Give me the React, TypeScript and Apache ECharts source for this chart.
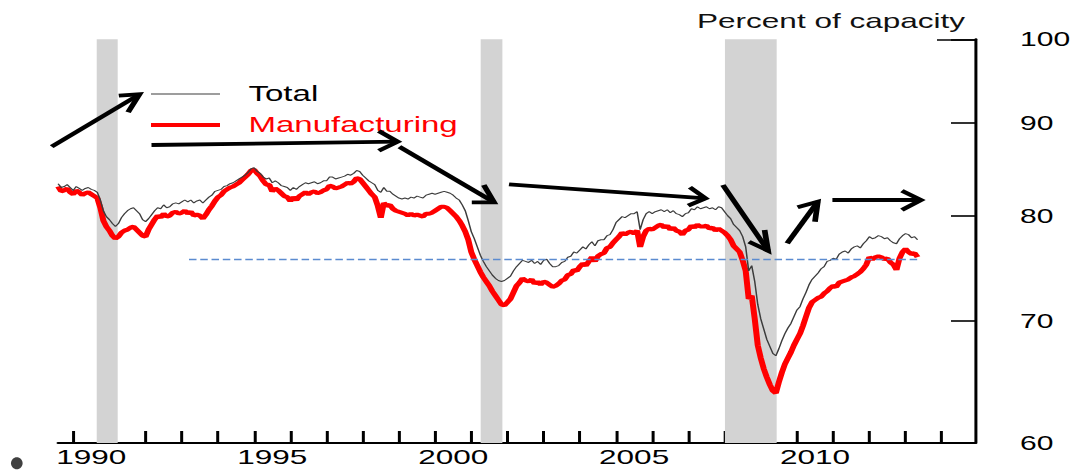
import React, { useEffect, useRef } from "react";
import * as echarts from "echarts";

// ---------------- data ----------------
// Monthly capacity utilization, Aug 1989 .. May 2013 (percent of capacity)
const START_YEAR = 1989;
const START_MONTH = 7; // zero-based: August

const TOTAL = [
  // 1989 Aug-Dec
  83.3, 82.9, 83.0, 83.2, 82.9,
  // 1990
  82.6, 83.0, 82.8, 82.6, 82.8, 82.9, 82.7, 82.6, 82.4, 81.6, 80.5, 79.9,
  // 1991
  79.6, 79.2, 78.9, 79.2, 79.8, 80.2, 80.5, 80.7, 80.8, 80.5, 80.2, 79.6,
  // 1992
  79.4, 79.7, 80.1, 80.5, 80.8, 80.7, 81.1, 80.8, 80.9, 81.2, 81.3, 81.2,
  // 1993
  81.4, 81.6, 81.4, 81.6, 81.3, 81.5, 81.6, 81.3, 81.6, 81.9, 82.1, 82.5,
  // 1994
  82.6, 82.7, 83.0, 83.1, 83.3, 83.4, 83.6, 83.8, 84.0, 84.2, 84.5, 84.9,
  // 1995
  85.0, 84.6, 84.4, 84.0, 83.8, 83.9, 83.4, 83.6, 83.4, 83.1, 83.0, 82.9,
  // 1996
  82.6, 82.9, 82.7, 83.0, 83.2, 83.4, 83.3, 83.4, 83.5, 83.3, 83.4, 83.6,
  // 1997
  83.6, 84.0, 84.0, 83.8, 83.9, 84.0, 84.1, 84.3, 84.2, 84.4, 84.7, 84.6,
  // 1998
  84.2, 83.9, 83.6, 83.4, 83.2, 82.6, 82.4, 82.9, 82.5, 82.5, 82.2, 82.0,
  // 1999
  81.8, 81.7, 81.8, 81.7, 81.9, 81.8, 82.0, 81.9, 81.8, 82.1, 82.2, 82.3,
  // 2000
  82.2, 82.3, 82.4, 82.5, 82.4, 82.3, 82.1, 81.8, 81.6, 81.1, 80.5, 79.5,
  // 2001
  78.4, 77.7, 76.9, 76.1, 75.5, 75.0, 74.6, 74.2, 73.9, 73.7, 73.6, 73.7,
  // 2002
  73.9, 74.1, 74.6, 75.0, 75.3, 75.6, 75.5, 75.4, 75.6, 75.3, 75.5, 75.2,
  // 2003
  75.6, 75.7, 75.3, 75.0, 75.0, 75.1, 75.4, 75.5, 75.9, 76.0, 76.4, 76.3,
  // 2004
  76.6, 76.9, 76.7, 77.1, 77.4, 77.0, 77.5, 77.6, 77.6, 78.0, 78.1, 78.6,
  // 2005
  79.3, 79.6, 79.9, 79.8, 80.0, 80.2, 80.2, 80.4, 78.6, 79.6, 80.2, 80.4,
  // 2006
  80.2, 80.4, 80.5, 80.6, 80.4, 80.6, 80.3, 80.5, 80.2, 80.1, 79.9, 80.2,
  // 2007
  80.3, 80.7, 80.6, 80.9, 80.7, 80.8, 80.9, 80.7, 80.8, 80.6, 80.9, 80.8,
  // 2008
  80.4, 80.0, 79.7, 79.1, 78.8, 78.5, 77.9, 76.9, 74.6, 75.1, 73.6, 71.5,
  // 2009
  70.2, 69.3, 68.4, 67.8, 67.2, 67.0, 67.6, 68.3, 68.9, 69.4, 69.8, 70.4,
  // 2010
  71.0, 71.3, 72.0, 72.6, 73.3, 73.8, 74.1, 74.4, 74.8, 75.0, 75.5, 75.6,
  // 2011
  75.8, 75.7, 76.2, 76.4, 76.5, 76.3, 76.7, 76.9, 77.0, 76.8, 77.2, 77.5,
  // 2012
  77.9, 77.7, 77.8, 78.0, 77.9, 77.7, 77.8, 77.5, 77.3, 77.2, 77.7, 78.0,
  // 2013 Jan-May
  78.2, 78.1, 77.8, 77.9, 77.6,
];

const MANUFACTURING = [
  // 1989 Aug-Dec
  83.0, 82.5, 82.6, 82.8, 82.4,
  // 1990
  82.2, 82.6, 82.4, 82.1, 82.3, 82.4, 82.2, 82.0, 81.8, 80.8, 79.5, 78.9,
  // 1991
  78.5, 78.0, 77.7, 77.9, 78.3, 78.5, 78.6, 78.8, 78.9, 78.6, 78.3, 78.0,
  // 1992
  77.9, 78.6, 79.1, 79.6, 80.0, 79.8, 80.2, 79.9, 80.0, 80.3, 80.4, 80.2,
  // 1993
  80.3, 80.5, 80.2, 80.4, 80.0, 80.1, 80.0, 79.7, 80.1, 80.6, 81.0, 81.5,
  // 1994
  81.9, 82.1, 82.5, 82.7, 82.9, 83.0, 83.2, 83.4, 83.7, 84.0, 84.3, 84.7,
  // 1995
  84.8, 84.4, 84.1, 83.6, 83.2, 83.2, 82.5, 82.8, 82.6, 82.3, 82.0, 81.9,
  // 1996
  81.5, 81.9, 81.6, 82.0, 82.2, 82.4, 82.2, 82.4, 82.5, 82.3, 82.4, 82.6,
  // 1997
  82.7, 83.1, 83.0, 82.8, 82.9, 83.0, 83.2, 83.4, 83.3, 83.5, 83.9, 83.8,
  // 1998
  83.4, 83.0, 82.6, 82.2, 81.9, 81.0, 79.8, 81.3, 81.0, 81.1, 80.7, 80.5,
  // 1999
  80.4, 80.3, 80.2, 80.0, 80.2, 80.0, 80.1, 80.0, 79.9, 80.2, 80.2, 80.3,
  // 2000
  80.5, 80.7, 80.9, 80.9, 80.8, 80.5, 80.2, 79.9, 79.5, 79.0, 78.4, 77.6,
  // 2001
  76.4, 75.7, 75.1, 74.5, 74.0, 73.6, 73.2, 72.7, 72.3, 71.9, 71.5, 71.4,
  // 2002
  71.7, 72.0, 72.6, 73.2, 73.5, 73.9, 73.7, 73.6, 73.8, 73.4, 73.6, 73.3,
  // 2003
  73.6, 73.5, 73.3, 73.1, 73.2, 73.4, 73.7, 73.8, 74.2, 74.3, 74.7, 74.6,
  // 2004
  75.0, 75.3, 75.1, 75.5, 75.9, 75.5, 76.0, 76.2, 76.3, 76.8, 76.9, 77.3,
  // 2005
  77.6, 77.9, 78.3, 78.1, 78.3, 78.4, 78.2, 78.5, 76.9, 77.9, 78.5, 78.7,
  // 2006
  78.6, 78.8, 79.0, 79.1, 78.8, 79.0, 78.6, 78.8, 78.5, 78.4, 78.1, 78.5,
  // 2007
  78.6, 79.0, 78.8, 79.1, 78.9, 78.9, 79.0, 78.7, 78.8, 78.5, 78.7, 78.5,
  // 2008
  78.3, 78.0, 77.6, 77.0, 76.7, 76.4, 75.6, 74.6, 72.0, 72.3, 70.2, 67.9,
  // 2009
  66.8, 65.9, 65.2, 64.6, 64.1, 63.9, 64.8, 65.6, 66.3, 66.8, 67.3, 67.9,
  // 2010
  68.4, 68.9, 69.6, 70.4, 71.2, 71.7, 71.9, 72.1, 72.2, 72.5, 72.7, 73.0,
  // 2011
  73.2, 73.1, 73.5, 73.6, 73.7, 73.8, 74.0, 74.1, 74.3, 74.5, 74.8, 75.2,
  // 2012
  75.9, 75.7, 75.9, 76.0, 75.9, 75.7, 75.8, 75.4, 75.2, 74.7, 75.8, 76.4,
  // 2013 Jan-May
  76.7, 76.4, 76.2, 76.3, 75.9,
];

// Recession shading (decimal years)
const RECESSION_START = [1990.65, 2001.26, 2008.01];
const RECESSION_END = [1991.23, 2001.86, 2009.44];

// Dashed reference level
const REF_LEVEL = 75.7;
const REF_FROM = 1993.2;
const REF_TO = 2013.37;

// Axis ticks and labels
const X_TICK_YEARS = [
  1990, 1991, 1992, 1993, 1994, 1995, 1996, 1997, 1998, 1999, 2000, 2001, 2002,
  2003, 2004, 2005, 2006, 2007, 2008, 2009, 2010, 2011, 2012, 2013, 2014,
];
const X_LABEL_YEARS = [1990, 1995, 2000, 2005, 2010];
const Y_TICKS = [60, 70, 80, 90, 100];

const SERIES_NAMES = ["Total", "Manufacturing"];

// Hand-drawn annotation arrows (page coordinates): shaft start, tip, two head arms
const ARROWS = [
  { from: [51.7, 146.7], tip: [139.5, 94.3], arms: [[118.8, 95.7], [128.1, 112.3]] },
  { from: [151.5, 145], tip: [397.7, 141.7], arms: [[378.8, 131], [378.8, 150.7]] },
  { from: [399.4, 146.7], tip: [494.1, 202.3], arms: [[483.8, 185], [471.8, 202.3]] },
  { from: [509, 184.3], tip: [705.5, 198.3], arms: [[689.9, 187.3], [688.2, 205.7]] },
  { from: [722.9, 185], tip: [768.1, 250.7], arms: [[749, 241.7], [764.6, 230]] },
  { from: [787.2, 243.3], tip: [817.8, 201.7], arms: [[797.6, 207.3], [815, 221.7]] },
  { from: [832.4, 200], tip: [921, 200], arms: [[901.9, 190.7], [901.9, 210]] },
];

// ---------------- layout ----------------
const W = 716;
const H = 470;
const S = 1075 / W; // the slide image is stretched horizontally
const px = (x: number) => x / S;
const FONT = "'Liberation Sans', Arial, sans-serif";

export default function App() {
  const ref = useRef<HTMLDivElement>(null);

  useEffect(() => {
    if (!ref.current) return;
    const chart = echarts.init(ref.current, null, { renderer: "svg", width: W, height: H });

    const start = START_YEAR + START_MONTH / 12;
    const dates = TOTAL.map((_, i) => start + i / 12);
    const totalData = TOTAL.map((v, i) => [dates[i], v]);
    const mfgData = MANUFACTURING.map((v, i) => [dates[i], v]);

    const arrowGraphics: any[] = [];
    ARROWS.forEach((a) => {
      arrowGraphics.push({
        type: "polyline",
        silent: true,
        shape: { points: [[px(a.from[0]), a.from[1]], [px(a.tip[0]), a.tip[1]]] },
        style: { stroke: "#000", lineWidth: 3.8, fill: null, lineCap: "butt" },
        z: 100,
      });
      arrowGraphics.push({
        type: "polyline",
        silent: true,
        shape: {
          points: [
            [px(a.arms[0][0]), a.arms[0][1]],
            [px(a.tip[0]), a.tip[1]],
            [px(a.arms[1][0]), a.arms[1][1]],
          ],
        },
        style: { stroke: "#000", lineWidth: 3.8, fill: null, lineJoin: "miter" },
        z: 100,
      });
    });

    const option: any = {
      animation: false,
      backgroundColor: "#fff",
      grid: {
        left: px(58),
        right: W - px(975),
        top: 39.3,
        bottom: 27,
        containLabel: false,
        outerBoundsMode: "none",
      },
      legend: {
        orient: "vertical",
        left: px(151),
        top: 82,
        padding: 0,
        itemWidth: px(69),
        itemHeight: 24,
        itemGap: 7,
        selectedMode: false,
        textStyle: {
          fontSize: 22,
          fontFamily: FONT,
          color: "#000",
          padding: [0, 0, 0, 14],
          lineHeight: 24,
        },
        data: [
          {
            name: SERIES_NAMES[0],
            icon: "path://M0,0H46V1.2H0Z",
            itemStyle: { color: "#3c3c3c" },
            textStyle: { color: "#000" },
          },
          {
            name: SERIES_NAMES[1],
            icon: "path://M0,0H46V4.2H0Z",
            itemStyle: { color: "#ff0000" },
            textStyle: { color: "#ff0000" },
          },
        ],
      },
      xAxis: {
        type: "value",
        min: 1989.58,
        max: 2014.92,
        position: "bottom",
        axisLine: { show: true, onZero: false, lineStyle: { color: "#000", width: 2 } },
        axisTick: {
          show: true,
          inside: true,
          length: 12,
          lineStyle: { color: "#000", width: 2 },
          customValues: X_TICK_YEARS,
        },
        axisLabel: {
          show: true,
          customValues: X_LABEL_YEARS.map((y) => y + 0.5),
          formatter: (v: number) => String(Math.floor(v)),
          fontSize: 21,
          fontFamily: FONT,
          color: "#000",
          margin: 3,
        },
        splitLine: { show: false },
      },
      yAxis: {
        type: "log",
        logBase: 10,
        min: 60,
        max: 100,
        position: "right",
        axisLine: { show: true, lineStyle: { color: "#000", width: 2 } },
        axisTick: {
          show: true,
          inside: true,
          length: px(24),
          lineStyle: { color: "#000", width: 1.6 },
          customValues: Y_TICKS,
        },
        axisLabel: {
          show: true,
          customValues: Y_TICKS,
          fontSize: 20,
          fontFamily: FONT,
          color: "#000",
          margin: px(45),
        },
        splitLine: { show: false },
      },
      series: [
        {
          name: SERIES_NAMES[1],
          type: "line",
          data: mfgData,
          symbol: "none",
          showSymbol: false,
          color: "#ff0000",
          lineStyle: { color: "#ff0000", width: 4 },
          emphasis: { disabled: true },
          z: 3,
          markArea: {
            silent: true,
            itemStyle: { color: "#d3d3d3" },
            data: RECESSION_START.map((s, i) => [{ xAxis: s }, { xAxis: RECESSION_END[i] }]),
          },
          markLine: {
            silent: true,
            symbol: ["none", "none"],
            label: { show: false },
            lineStyle: { color: "#000", width: 1.6, type: "solid" },
            emphasis: { disabled: true },
            data: [[{ coord: [2013.87, 100] }, { coord: [2014.92, 100] }]],
          },
        },
        {
          name: SERIES_NAMES[0],
          type: "line",
          data: totalData,
          symbol: "none",
          showSymbol: false,
          color: "#3c3c3c",
          lineStyle: { color: "#3c3c3c", width: 1 },
          emphasis: { disabled: true },
          z: 4,
          markLine: {
            silent: true,
            symbol: ["none", "none"],
            label: { show: false },
            lineStyle: { color: "#5b8bd0", width: 1.4, type: [5, 2.5], opacity: 1 },
            emphasis: { disabled: true },
            data: [[{ coord: [REF_FROM, REF_LEVEL] }, { coord: [REF_TO, REF_LEVEL] }]],
          },
        },
      ],
      graphic: [
        {
          type: "text",
          x: px(965),
          y: 21,
          silent: true,
          style: {
            text: "Percent of capacity",
            fontSize: 21,
            fontFamily: FONT,
            fill: "#111",
            align: "right",
            verticalAlign: "middle",
          },
        },
        {
          type: "ellipse",
          silent: true,
          shape: { cx: px(16.8), cy: 463.3, rx: px(5.8), ry: 6 },
          style: { fill: "#404040" },
        },
        ...arrowGraphics,
      ],
    };

    chart.setOption(option);
    return () => chart.dispose();
  }, []);

  return (
    <div
      ref={ref}
      style={{
        position: "absolute",
        left: 0,
        top: 0,
        width: W,
        height: H,
        transform: `scaleX(${S})`,
        transformOrigin: "0 0",
        background: "#fff",
      }}
    />
  );
}
